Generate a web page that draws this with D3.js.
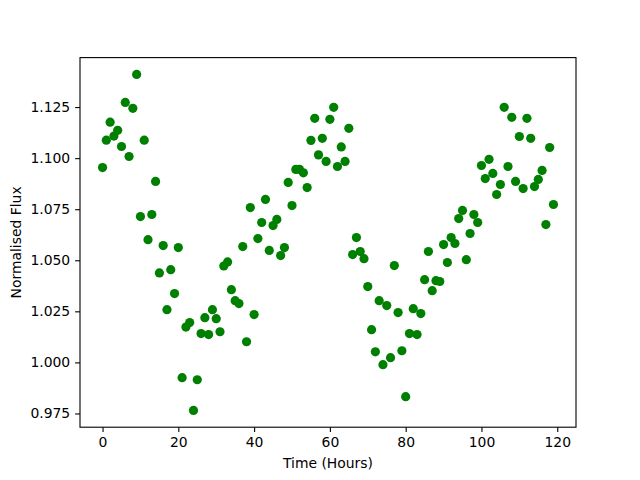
<!DOCTYPE html>
<html><head><meta charset="utf-8">
<script src="https://cdn.jsdelivr.net/npm/d3@7"></script>
<style>body{margin:0;background:#fff}svg{display:block}text{font-family:"DejaVu Sans",sans-serif}</style>
</head><body><svg id="c" width="640" height="480"></svg>
<script>
const hours = d3.range(0, 120);
const flux = [
1.0954,1.1088,1.1176,1.1108,1.1136,1.1057,1.1273,1.1008,1.1244,1.1410,
1.0714,1.1088,1.0601,1.0724,1.0886,1.0438,1.0572,1.0258,1.0454,1.0337,
1.0562,0.9925,1.0173,1.0195,0.9765,0.9915,1.0141,1.0219,1.0136,1.0258,
1.0214,1.0150,1.0472,1.0492,1.0356,1.0302,1.0288,1.0567,1.0101,1.0758,
1.0234,1.0606,1.0685,1.0798,1.0548,1.0670,1.0700,1.0523,1.0562,1.0881,
1.0768,1.0945,1.0945,1.0928,1.0856,1.1087,1.1195,1.1016,1.1097,1.0984,
1.1190,1.1249,1.0959,1.1055,1.0984,1.1146,1.0528,1.0611,1.0543,1.0508,
1.0371,1.0160,1.0052,1.0302,0.9989,1.0278,1.0023,1.0474,1.0244,1.0057,
0.9832,1.0141,1.0263,1.0136,1.0239,1.0405,1.0543,1.0351,1.0400,1.0396,
1.0577,1.0489,1.0611,1.0582,1.0704,1.0744,1.0503,1.0631,1.0724,1.0685,
1.0964,1.0900,1.0994,1.0925,1.0822,1.0871,1.1249,1.0959,1.1200,1.0886,
1.1106,1.0851,1.1195,1.1097,1.0861,1.0896,1.0940,1.0675,1.1052,1.0773];
const xTicks = [0,20,40,60,80,100,120];
const yTicks = [0.975,1.000,1.025,1.050,1.075,1.100,1.125];
const xLabel = "Time (Hours)";
const yLabel = "Normalised Flux";

const svg = d3.select("#c");
const L=80, R=576, T=57.6, B=427.2;
const xe = d3.extent(hours), ye = d3.extent(flux);
const xp = (xe[1]-xe[0])*0.05, yp = (ye[1]-ye[0])*0.05;
const x = d3.scaleLinear().domain([xe[0]-xp, xe[1]+xp]).range([L,R]);
const y = d3.scaleLinear().domain([ye[0]-yp, ye[1]+yp]).range([B,T]);

svg.append("g").selectAll("circle").data(hours).join("circle")
  .attr("cx", d=>x(d)).attr("cy", (d,i)=>y(flux[i])).attr("r", 4.6)
  .attr("fill", "#008000");

const xa = svg.append("g").attr("transform",`translate(0,${B})`)
  .call(d3.axisBottom(x).tickValues(xTicks).tickSize(4.9).tickPadding(4.9).tickFormat(d3.format("d")));
const ya = svg.append("g").attr("transform",`translate(${L},0)`)
  .call(d3.axisLeft(y).tickValues(yTicks).tickSize(4.9).tickPadding(4.9).tickFormat(d3.format(".3f")));
[xa,ya].forEach(a=>{
  a.select(".domain").remove();
  a.selectAll("line").attr("stroke","#000").attr("stroke-width",1.1);
  a.selectAll("text").attr("font-size","13.9px").attr("fill","#000").attr("font-family","DejaVu Sans");
});
svg.append("rect").attr("x",L).attr("y",T).attr("width",R-L).attr("height",B-T)
  .attr("fill","none").attr("stroke","#000").attr("stroke-width",1.1);

svg.append("text").attr("x",(L+R)/2).attr("y",468).attr("text-anchor","middle")
  .attr("font-size","13.9px").text(xLabel);
svg.append("text").attr("transform",`translate(21,${(T+B)/2}) rotate(-90)`).attr("text-anchor","middle")
  .attr("font-size","13.9px").text(yLabel);
</script></body></html>
